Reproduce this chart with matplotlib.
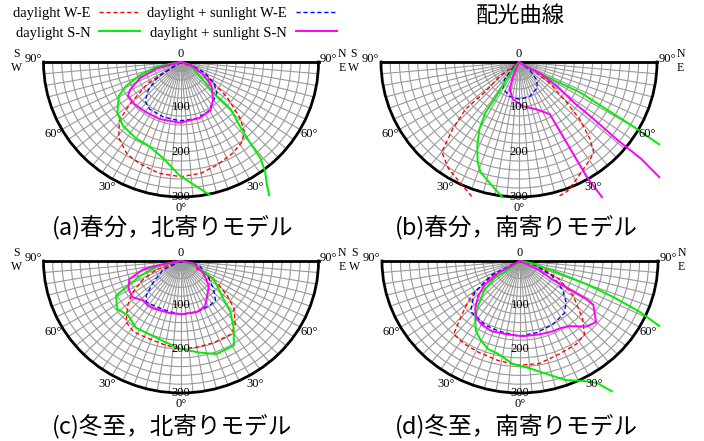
import numpy as np
import matplotlib.pyplot as plt
from matplotlib.lines import Line2D

plt.rcParams['font.family'] = ['Liberation Serif', 'DejaVu Serif']

# 角度は真下=0°、右(N/E)が正、左(S/W)が負。値は 0-300
# (a) 春分, 北寄り
a_dl_we_ang = [-57, -57, -50, -46, -39, -30, -22, -11, 0, 10, 19, 29, 37, 42, 46, 52, 57, 63, 63]
a_dl_we_val = [0, 85, 146, 187, 216, 236, 243, 252, 255, 251, 242, 232, 222, 206, 179, 128, 85, 39, 0]
a_ds_we_ang = [-57, -57, -49, -42, -33, -18, -1, 15, 28, 37, 49, 57, 65, 74, 74]
a_ds_we_val = [0, 59, 94, 117, 125, 128, 131, 130, 125, 114, 104, 85, 58, 24, 0]
a_dl_sn_ang = [12, 8, -1, -10, -21, -30, -42, -51, -61, -66, -72, -79, -79, 72, 52, 46, 46, 42, 40, 39, 37, 35, 33]
a_dl_sn_val = [302, 283, 251, 218, 199, 196, 190, 179, 155, 131, 94, 54, 0, 21, 53, 99, 150, 192, 234, 276, 305, 325, 353]
a_ds_sn_ang = [-75, -75, -68, -61, -57, -47, -34, -20, -1, 18, 31, 40, 51, 60, 71, 71]
a_ds_sn_val = [0, 55, 97, 127, 138, 138, 135, 135, 135, 131, 125, 109, 86, 57, 25, 0]

# (b) 春分, 南寄り
b_dl_we_ang = [-19, -26, -33, -40, -44, -48, -48, -53, -52, -52, 60, 55, 49, 46, 42, 39, 36, 26, 20, 16]
b_dl_we_val = [316, 296, 282, 261, 208, 156, 97, 53, 17, 0, 35, 82, 138, 184, 231, 258, 265, 288, 306, 311]
b_ds_we_ang = [-44, -44, -39, -31, -15, 1, 17, 35, 44, 53, 53]
b_ds_we_val = [0, 24, 50, 68, 79, 83, 80, 70, 55, 29, 0]
b_dl_sn_ang = [-7, -10, -14, -19, -22, -26, -30, -33, -33, -35, -35, 60, 62, 63, 61, 60, 59]
b_dl_sn_val = [302, 289, 274, 258, 240, 207, 172, 134, 91, 48, 0, 35, 84, 150, 219, 288, 355]
b_ds_sn_ang = [31, 30, 30, 30, 30, 20, 5, -9, -18, -22, -22, 58, 61, 57, 53, 52, 51, 51, 50]
b_ds_sn_val = [350, 298, 239, 180, 134, 112, 99, 84, 65, 35, 0, 19, 52, 98, 149, 206, 274, 341, 398]

# (c) 冬至, 北寄り
c_dl_we_ang = [-70, -70, -63, -56, -49, -41, -33, -24, -12, -1, 10, 21, 33, 39, 47, 52, 58, 61, 76, 76]
c_dl_we_val = [0, 57, 93, 127, 154, 183, 191, 190, 193, 200, 199, 199, 199, 188, 158, 128, 93, 48, 21, 0]
c_ds_we_ang = [-63, -63, -51, -44, -39, -27, -12, 1, 17, 32, 40, 48, 58, 73, 86, 86]
c_ds_we_val = [0, 44, 79, 109, 120, 117, 118, 121, 121, 119, 117, 96, 71, 44, 20, 0]
c_dl_sn_ang = [-79, -79, -69, -61, -52, -43, -33, -20, -10, 0, 11, 20, 31, 37, 43, 47, 60, 70, 70]
c_dl_sn_val = [0, 47, 97, 162, 177, 169, 181, 181, 188, 200, 212, 225, 224, 191, 158, 127, 83, 37, 0]
c_ds_sn_ang = [-79, -79, -77, -70, -61, -52, -43, -36, -30, -12, 1, 17, 27, 33, 47, 61, 79, 79]
c_ds_sn_val = [0, 47, 85, 120, 131, 134, 122, 124, 124, 121, 121, 121, 115, 103, 83, 56, 28, 0]

# (d) 冬至, 南寄り
d_dl_we_ang = [-63, -63, -61, -54, -48, -41, -33, -24, -12, -1, 10, 22, 33, 40, 46, 56, 64, 73, 73]
d_dl_we_val = [0, 28, 71, 127, 162, 220, 224, 226, 231, 237, 237, 228, 225, 218, 189, 139, 95, 43, 0]
d_ds_we_ang = [-63, -63, -54, -46, -43, -35, -28, -16, -1, 12, 26, 39, 47, 55, 64, 79, 79]
d_ds_we_val = [0, 69, 122, 146, 157, 159, 164, 166, 171, 167, 161, 153, 137, 113, 79, 27, 0]
d_dl_sn_ang = [34, 31, 27, 20, 12, 5, -4, -13, -19, -25, -31, -37, -42, -50, -55, -52, -52, 79, 72, 70, 68, 66, 64]
d_dl_sn_val = [357, 323, 306, 288, 261, 245, 234, 216, 212, 200, 186, 162, 136, 100, 66, 32, 0, 27, 90, 154, 219, 286, 337]
d_ds_sn_ang = [-60, -60, -55, -49, -42, -36, -30, -21, -9, 2, 14, 24, 30, 36, 44, 50, 58, 59, 59, 59, 64, 64]
d_ds_sn_val = [0, 54, 93, 120, 146, 161, 167, 171, 169, 171, 172, 175, 176, 183, 207, 216, 188, 168, 125, 82, 46, 0]

legend_labels = ['daylight W-E', 'daylight S-N', 'daylight + sunlight W-E', 'daylight + sunlight S-N']
panel_titles = ['(a)春分，北寄りモデル', '(b)春分，南寄りモデル', '(c)冬至，北寄りモデル', '(d)冬至，南寄りモデル']

styles = {
    'dl_we': dict(color='#ff0000', lw=1.0, ls=(0, (3, 2))),
    'ds_we': dict(color='#0000ff', lw=1.0, ls=(0, (3, 2))),
    'dl_sn': dict(color='#00ee00', lw=1.4, ls='-'),
    'ds_sn': dict(color='#ff00ff', lw=1.4, ls='-'),
}

W, H = 704, 441
fig = plt.figure(figsize=(W / 100, H / 100), dpi=100)


def half_polar_rect(xc, yc, rx, ry):
    # 半円の中心(px, 上から)と半径 -> axes の矩形 (aspect auto では楔は上3/4に中心)
    left = (xc - rx) / W
    bottom = 1 - (yc + 1.5 * ry) / H
    return [left, bottom, 2 * rx / W, 2 * ry / H]


def draw_panel(rect, curves, title, tx, ty):
    ax = fig.add_axes(rect, projection='polar')
    ax.set_theta_zero_location('S')
    ax.set_thetamin(-90)
    ax.set_thetamax(90)
    ax.set_rlim(0, 300)
    ax.set_aspect('auto')
    ax.set_xticks(np.radians(np.arange(-90, 91, 5)))
    ax.set_xticklabels([])
    ax.set_yticks(np.arange(20, 301, 20))
    ax.set_yticklabels([])
    ax.grid(color='#9a9a9a', lw=0.8)
    for s in ('polar', 'start', 'end'):
        ax.spines[s].set_linewidth(2)
        ax.spines[s].set_color('black')
    ax.spines['inner'].set_visible(False)

    for key, (ang, val) in curves.items():
        ax.plot(np.radians(ang), val, clip_on=False, zorder=3, **styles[key])

    fs = 9
    for r in (100, 200, 300):
        ax.text(0, r, str(r), ha='center', va='center', fontsize=fs, zorder=4)
    ax.annotate('0', xy=(0, 0), xytext=(0, 6), textcoords='offset points',
                ha='center', va='center', fontsize=fs)
    ax.text(0, 325, '0°', ha='center', va='center', fontsize=fs, clip_on=False)
    for deg in (30, 60):
        ax.text(np.radians(-deg), 322, f'{deg}°', ha='center', va='center', fontsize=fs, clip_on=False)
        ax.text(np.radians(deg), 322, f'{deg}°', ha='center', va='center', fontsize=fs, clip_on=False)
    left = np.radians(-90)
    right = np.radians(90)
    ax.annotate('90°', xy=(left, 300), xytext=(-1, 2), textcoords='offset points',
                ha='right', va='center', fontsize=fs)
    ax.annotate('90°', xy=(right, 300), xytext=(1, 2), textcoords='offset points',
                ha='left', va='center', fontsize=fs)
    fs2 = 8.5
    ax.annotate('S', xy=(left, 300), xytext=(-19.5, 5.5), textcoords='offset points',
                ha='center', va='center', fontsize=fs2)
    ax.annotate('W', xy=(left, 300), xytext=(-19.5, -4.5), textcoords='offset points',
                ha='center', va='center', fontsize=fs2)
    ax.annotate('N', xy=(right, 300), xytext=(17, 5.5), textcoords='offset points',
                ha='center', va='center', fontsize=fs2)
    ax.annotate('E', xy=(right, 300), xytext=(17, -4.5), textcoords='offset points',
                ha='center', va='center', fontsize=fs2)

    fig.text(tx, ty, title, ha='center', va='center', fontsize=17,
             family=['Noto Sans CJK JP', 'DejaVu Sans'])
    return ax


draw_panel(half_polar_rect(181, 62, 137.5, 135),
           {'dl_we': (a_dl_we_ang, a_dl_we_val), 'ds_we': (a_ds_we_ang, a_ds_we_val),
            'dl_sn': (a_dl_sn_ang, a_dl_sn_val), 'ds_sn': (a_ds_sn_ang, a_ds_sn_val)},
           panel_titles[0], 0.245, 1 - 228 / H)
draw_panel(half_polar_rect(519, 62, 138, 135),
           {'dl_we': (b_dl_we_ang, b_dl_we_val), 'ds_we': (b_ds_we_ang, b_ds_we_val),
            'dl_sn': (b_dl_sn_ang, b_dl_sn_val), 'ds_sn': (b_ds_sn_ang, b_ds_sn_val)},
           panel_titles[1], 0.733, 1 - 228 / H)
draw_panel(half_polar_rect(181, 261, 137.5, 132),
           {'dl_we': (c_dl_we_ang, c_dl_we_val), 'ds_we': (c_ds_we_ang, c_ds_we_val),
            'dl_sn': (c_dl_sn_ang, c_dl_sn_val), 'ds_sn': (c_ds_sn_ang, c_ds_sn_val)},
           panel_titles[2], 0.245, 1 - 426 / H)
draw_panel(half_polar_rect(520, 261, 138, 132),
           {'dl_we': (d_dl_we_ang, d_dl_we_val), 'ds_we': (d_ds_we_ang, d_ds_we_val),
            'dl_sn': (d_dl_sn_ang, d_dl_sn_val), 'ds_sn': (d_ds_sn_ang, d_ds_sn_val)},
           panel_titles[3], 0.733, 1 - 426 / H)

fig.text(0.739, 1 - 15 / H, '配光曲線', ha='center', va='center', fontsize=16,
         family=['Noto Sans CJK JP', 'DejaVu Sans'])

handles = [Line2D([], [], **styles[k]) for k in ('dl_we', 'dl_sn', 'ds_we', 'ds_sn')]
fig.legend(handles, legend_labels, ncol=2, markerfirst=False, frameon=False,
           loc='upper left', bbox_to_anchor=(13 / W, 1 - 7 / H), fontsize=10.5,
           handlelength=2.8, handletextpad=0.6, columnspacing=0.5, labelspacing=0.42,
           borderpad=0, borderaxespad=0)

fig.savefig('out.png', dpi=100)
